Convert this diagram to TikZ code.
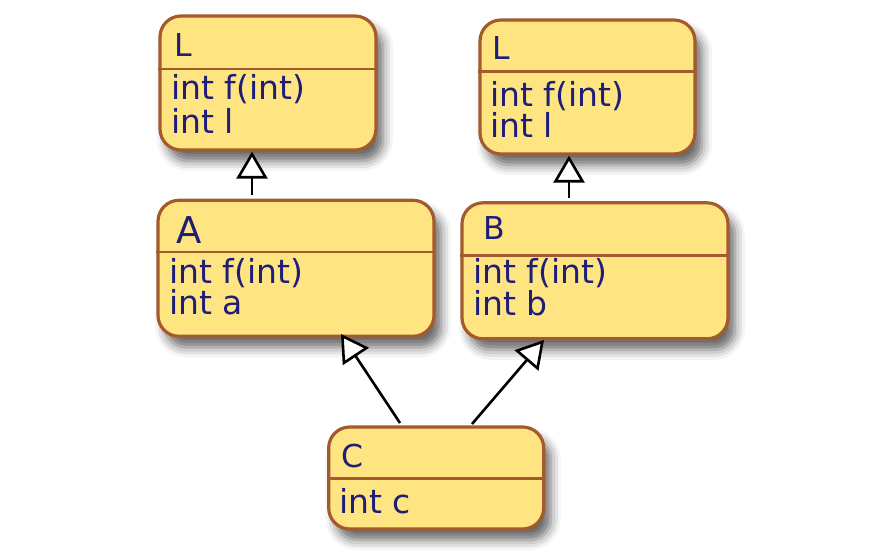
\documentclass[tikz,border=0pt]{standalone}
\usepackage{fontspec}
\setmainfont{DejaVu Sans}
\usetikzlibrary{arrows.meta,shadows.blur}
\definecolor{boxfill}{RGB}{255,228,130}
\definecolor{boxline}{RGB}{163,90,45}
\definecolor{txt}{RGB}{30,30,120}
\begin{document}
\begin{tikzpicture}[x=1pt,y=-1pt,
  cls/.style={draw=boxline, fill=boxfill, line width=3.2pt, rounded corners=21pt,
    inner sep=0pt, blur shadow={shadow xshift=7pt, shadow yshift=-11pt, shadow blur radius=10pt, shadow opacity=60}},
  divider/.style={draw=boxline, line width=2.6pt},
  ttl/.style={anchor=base west, inner sep=0pt, text=txt, font=\fontsize{31.5}{31}\selectfont},
  bigttl/.style={anchor=base west, inner sep=0pt, text=txt, font=\fontsize{37}{36}\selectfont},
  body/.style={anchor=base west, inner sep=0pt, text=txt, font=\fontsize{33}{32}\selectfont},
  inh/.style={draw=black, line width=2.6pt, -{Triangle[fill=white, width=31pt, length=27pt, line width=2.6pt]}}]
\useasboundingbox (0,0) rectangle (876,559);
% boxes
\node[cls, minimum width=216pt, minimum height=134pt] (L1) at (268,83) {};
\node[cls, minimum width=215pt, minimum height=134pt] (L2) at (587.5,87) {};
\node[cls, minimum width=276pt, minimum height=136pt] (A) at (296,268.3) {};
\node[cls, minimum width=266pt, minimum height=136pt] (B) at (595,270.8) {};
\node[cls, minimum width=215pt, minimum height=102pt] (C) at (436.2,478) {};
% dividers
\draw[divider] (L1.west |- 0,69) -- (L1.east |- 0,69);
\draw[divider] (L2.west |- 0,71.5) -- (L2.east |- 0,71.5);
\draw[divider] (A.west |- 0,252) -- (A.east |- 0,252);
\draw[divider] (B.west |- 0,255.5) -- (B.east |- 0,255.5);
\draw[divider] (C.west |- 0,478.3) -- (C.east |- 0,478.3);
% texts
\node[ttl] (L1t) at (174,57) {L};
\node[body] (L1b1) at (171,100) {int f(int)};
\node[body] (L1b2) at (171,133.3) {int l};
\node[ttl] (L2t) at (492,60) {L};
\node[body] (L2b1) at (490,106.7) {int f(int)};
\node[body] (L2b2) at (490,137.7) {int l};
\node[bigttl] (At) at (176,243.3) {A};
\node[body] (Ab1) at (169,283.3) {int f(int)};
\node[body] (Ab2) at (169,314.3) {int a};
\node[ttl] (Bt) at (483.5,240) {B};
\node[body] (Bb1) at (473,283) {int f(int)};
\node[body] (Bb2) at (473,315) {int b};
\node[ttl] (Ct) at (341.5,467.3) {C};
\node[body] (Cb1) at (339,513.3) {int c};
% connectors
\coordinate (a1) at (252,195);
\coordinate (b1) at (569,198);
\coordinate (cA) at (400,423);
\coordinate (cB) at (472,424);
\coordinate (tA) at (341,334);
\coordinate (tB) at (544,340);
\draw[inh] (a1) -- (L1.south -| a1);
\draw[inh] (b1) -- (L2.south -| b1);
\draw[inh] (cA) -- (tA);
\draw[inh] (cB) -- (tB);
\end{tikzpicture}
\end{document}
